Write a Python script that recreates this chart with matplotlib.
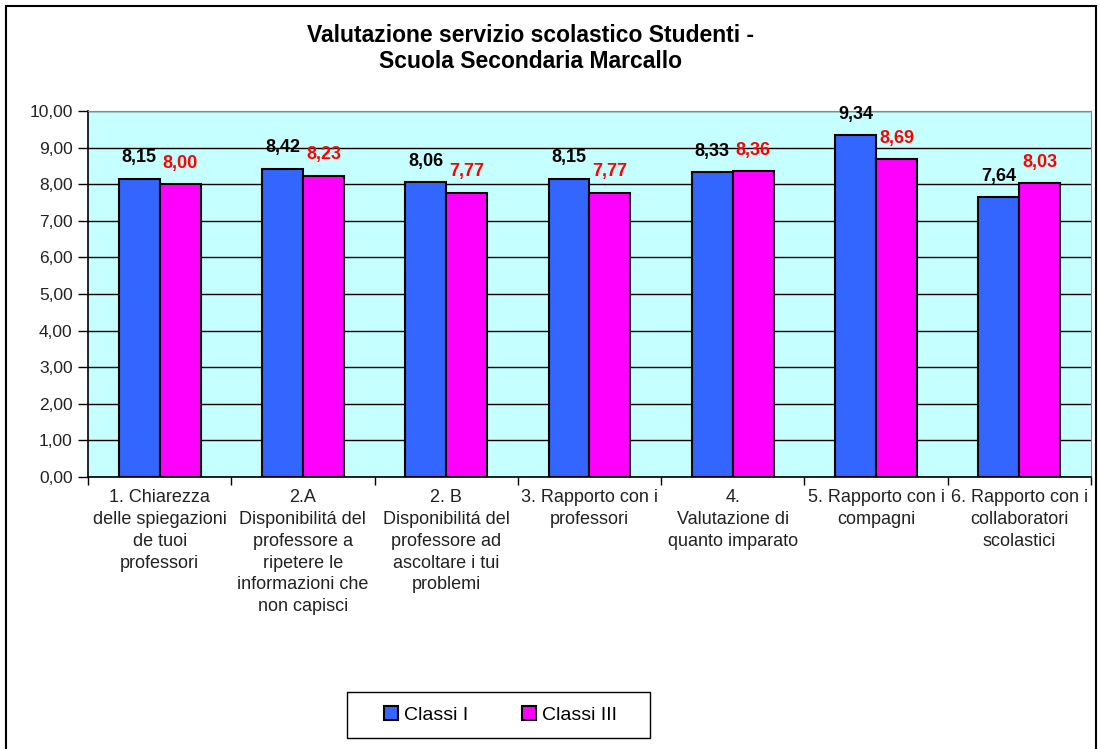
import matplotlib.pyplot as plt
import numpy as np
from matplotlib.patches import Rectangle

plt.rcParams["font.family"] = ["Liberation Sans", "DejaVu Sans"]

categories = [
    "1. Chiarezza\ndelle spiegazioni\nde tuoi\nprofessori",
    "2.A\nDisponibilitá del\nprofessore a\nripetere le\ninformazioni che\nnon capisci",
    "2. B\nDisponibilitá del\nprofessore ad\nascoltare i tui\nproblemi",
    "3. Rapporto con i\nprofessori",
    "4.\nValutazione di\nquanto imparato",
    "5. Rapporto con i\ncompagni",
    "6. Rapporto con i\ncollaboratori\nscolastici",
]
classi_1 = [8.15, 8.42, 8.06, 8.15, 8.33, 9.34, 7.64]
classi_3 = [8.00, 8.23, 7.77, 7.77, 8.36, 8.69, 8.03]
series_names = ["Classi I", "Classi III"]

fig = plt.figure(figsize=(11, 7.49), dpi=100)
ax = fig.add_axes([0.08, 0.3632, 0.9118, 0.4886])
ax.set_facecolor("#C6FFFF")

x = np.arange(len(categories))
w = 0.286
b1 = ax.bar(x - w / 2, classi_1, w, color="#3366FF", edgecolor="black", linewidth=1.5,
            label=series_names[0], zorder=3)
b2 = ax.bar(x + w / 2, classi_3, w, color="#FF00FF", edgecolor="black", linewidth=1.5,
            label=series_names[1], zorder=3)

for xi, v in zip(x, classi_1):
    ax.annotate(f"{v:.2f}".replace(".", ","), (xi - w / 2, v), xytext=(0, 15),
                textcoords="offset points", ha="center", va="center",
                fontsize=13, fontweight="bold", color="black", zorder=4)
for xi, v in zip(x, classi_3):
    ax.annotate(f"{v:.2f}".replace(".", ","), (xi + w / 2, v), xytext=(0, 15),
                textcoords="offset points", ha="center", va="center",
                fontsize=13, fontweight="bold", color="#FF0000", zorder=4)

ax.set_xlim(-0.5, len(categories) - 0.5)
ax.set_ylim(0, 10)
ax.set_yticks(np.arange(0, 11, 1))
ax.set_yticklabels([f"{t:.2f}".replace(".", ",") for t in range(11)], fontsize=12.5, color="#222222")
ax.yaxis.grid(True, color="black", linewidth=1, zorder=1)
ax.tick_params(axis="y", length=7, width=1, pad=4)

ax.set_xticks(x)
ax.set_xticklabels(categories, fontsize=13, color="#222222", linespacing=1.36)
ax.set_xticks(np.arange(-0.5, len(categories), 1), minor=True)
ax.tick_params(axis="x", which="major", length=0, pad=9)
ax.tick_params(axis="x", which="minor", length=6, width=1)

for s in ["left", "bottom"]:
    ax.spines[s].set_color("black")
    ax.spines[s].set_linewidth(1.2)
for s in ["top", "right"]:
    ax.spines[s].set_color("#888888")

fig.text(0.482, 0.935, "Valutazione servizio scolastico Studenti -\nScuola Secondaria Marcallo",
         ha="center", va="center", fontsize=16.5, fontweight="bold", linespacing=1.2)

# legend entries without frame, framed by a box like the original
fig.legend(handles=[b1, b2], labels=series_names, loc="center",
           bbox_to_anchor=(0.455, 0.0454), ncol=2, fontsize=14,
           frameon=False, handlelength=0.7, handleheight=0.7,
           columnspacing=2.8, handletextpad=0.3, borderaxespad=0)
fig.patches.append(Rectangle((347 / 1100, 1 - 738 / 749), 303 / 1100, 46 / 749,
                             transform=fig.transFigure, fill=False,
                             edgecolor="black", linewidth=1))

# outer border of the chart area
fig.patches.append(Rectangle((6 / 1100, -0.05), 1090 / 1100, 1 - 6 / 749 + 0.05,
                             transform=fig.transFigure, fill=False,
                             edgecolor="black", linewidth=1.5))

fig.savefig("out.png", dpi=100)
